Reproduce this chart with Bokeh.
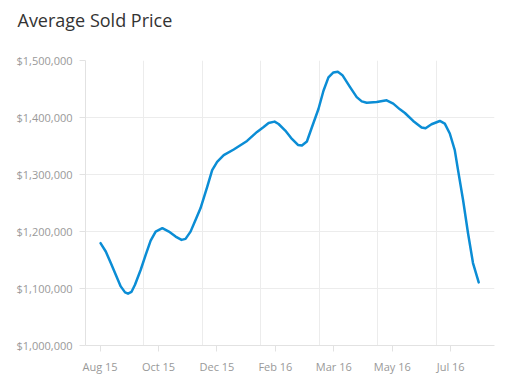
from bokeh.plotting import figure
from bokeh.models import FixedTicker, NumeralTickFormatter, Range1d, Title
from bokeh.embed import file_html
from bokeh.resources import INLINE

# Tick labels (category positions 0..6)
tick_labels = ["Aug 15", "Oct 15", "Dec 15", "Feb 16", "Mar 16", "May 16", "Jul 16"]
price_ticks = [1000000, 1100000, 1200000, 1300000, 1400000, 1500000]

# Curve: position along the label axis, and price
position = [0.007, 0.097, 0.183, 0.268, 0.353, 0.427, 0.478, 0.536, 0.597,
            0.695, 0.780, 0.865, 0.951, 1.065, 1.177, 1.292, 1.394, 1.462,
            1.548, 1.633, 1.718, 1.833, 1.918, 2.003, 2.116, 2.287, 2.515,
            2.686, 2.799, 2.884, 2.986, 3.055, 3.169, 3.283, 3.386, 3.454,
            3.539, 3.625, 3.737, 3.823, 3.908, 3.993, 4.068, 4.147, 4.278,
            4.392, 4.478, 4.563, 4.734, 4.904, 5.017, 5.131, 5.217, 5.358,
            5.502, 5.570, 5.672, 5.814, 5.899, 5.985, 6.070, 6.126, 6.212,
            6.297, 6.382, 6.480]
price = [1179500, 1164900, 1144600, 1124100, 1103700, 1093200, 1090900,
         1093900, 1106600, 1132900, 1159100, 1184100, 1199800, 1205800,
         1199800, 1191100, 1185300, 1187100, 1199800, 1220300, 1240700,
         1278500, 1307700, 1322200, 1333900, 1343900, 1358900, 1374700,
         1383400, 1390400, 1392800, 1388600, 1377100, 1362400, 1351900,
         1350900, 1357900, 1382900, 1414900, 1447000, 1470300, 1479000,
         1480200, 1474300, 1453300, 1435800, 1428300, 1426000, 1427100,
         1430100, 1424300, 1414300, 1407900, 1393900, 1382300, 1381100,
         1388100, 1393900, 1389300, 1371900, 1342700, 1307700, 1255200,
         1197000, 1144600, 1110700]

TITLE = "Average Sold Price"
FONT = "Open Sans"
GRID = "#ececec"
AXIS = "#e2e2e2"
LABEL = "#999999"

p = figure(width=500, height=376, output_backend="svg", toolbar_location=None,
           x_range=Range1d(-0.25, 6.75), y_range=Range1d(1000000, 1500000),
           min_border_left=85, min_border_right=6, min_border_top=60,
           min_border_bottom=30)

p.outline_line_color = None
p.background_fill_color = "white"
p.border_fill_color = "white"

# spacing panel between the frame and the title
p.add_layout(Title(text=" ", text_font_size="1px", standoff=17), "above")
# chart title
p.add_layout(Title(text=TITLE, text_font=FONT, text_font_size="18px",
                   text_font_style="normal", text_color="#333333",
                   align="left", vertical_align="top", offset=-68,
                   standoff=13), "above")

p.line(position, price, line_color="#0b8dd5", line_width=2.5,
       line_join="round", line_cap="round")

p.xaxis.ticker = FixedTicker(ticks=list(range(len(tick_labels))))
p.xaxis.major_label_overrides = {i: t for i, t in enumerate(tick_labels)}
p.yaxis.ticker = FixedTicker(ticks=price_ticks)
p.yaxis.formatter = NumeralTickFormatter(format="$0,0")

p.xgrid.ticker = FixedTicker(ticks=[i - 0.25 for i in range(len(tick_labels) + 1)])
p.xgrid.grid_line_color = GRID
p.ygrid.grid_line_color = GRID

for ax in (p.xaxis, p.yaxis):
    ax.axis_line_color = AXIS
    ax.major_tick_line_color = AXIS
    ax.major_tick_out = 6
    ax.major_tick_in = 0
    ax.minor_tick_line_color = None
    ax.major_label_text_font = FONT
    ax.major_label_text_font_size = "11px"
    ax.major_label_text_color = LABEL
    ax.major_label_standoff = 7

open("out.html", "w").write(file_html(p, INLINE))
